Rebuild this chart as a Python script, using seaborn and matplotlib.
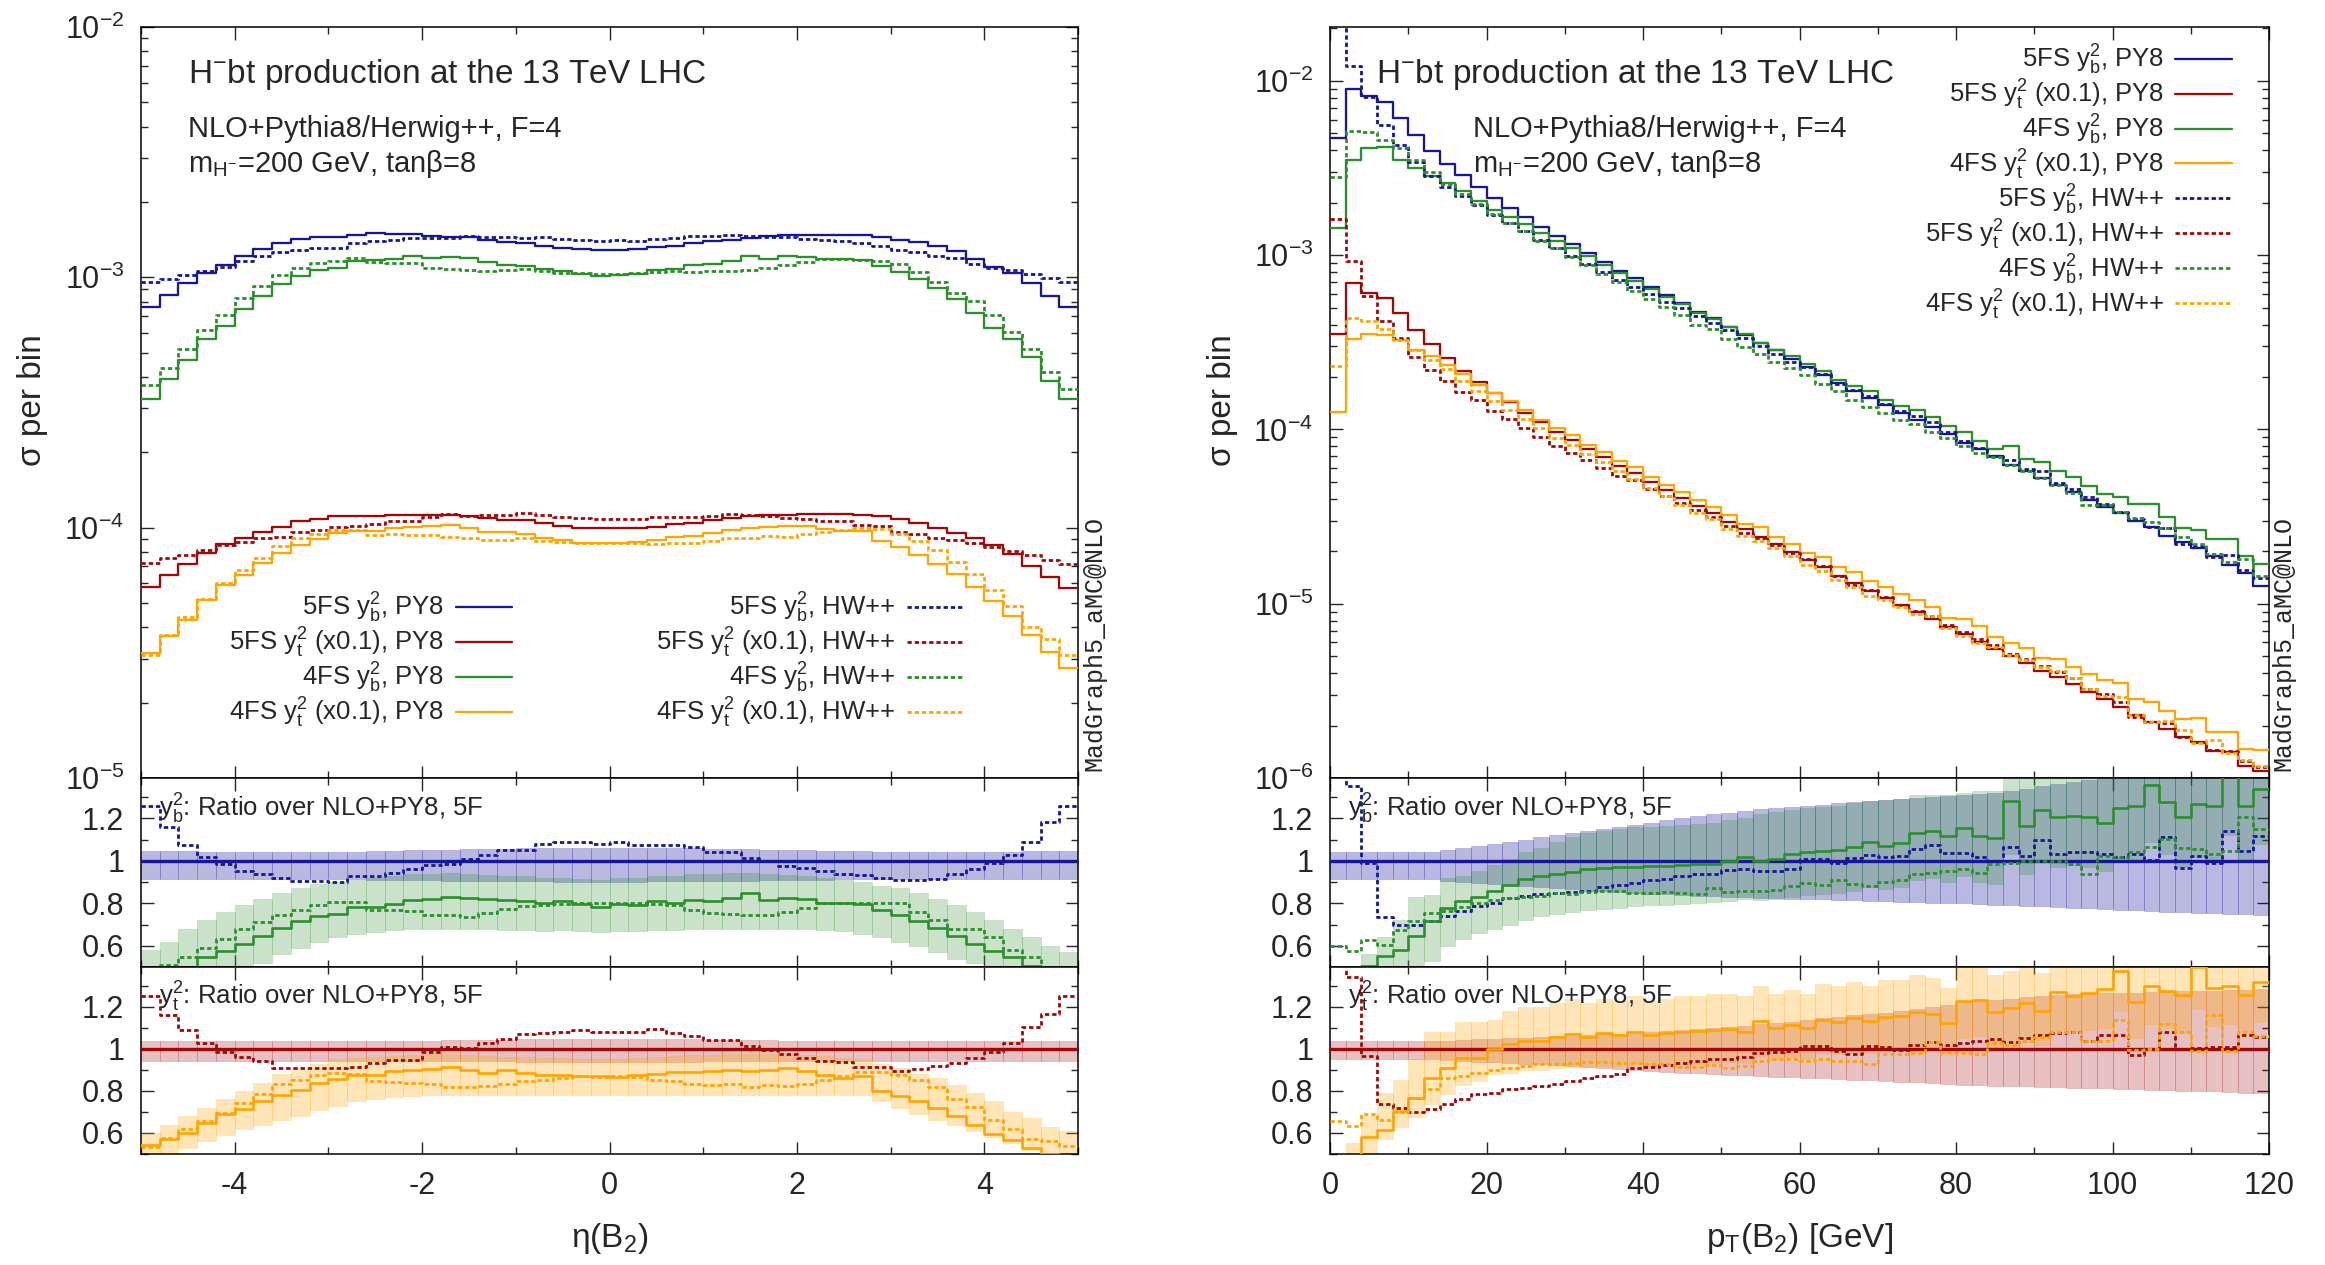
import numpy as np
import pandas as pd
import matplotlib
matplotlib.use("Agg")
import matplotlib.pyplot as plt
import seaborn as sns
from matplotlib.ticker import MultipleLocator, LogLocator, NullFormatter, FormatStrFormatter

# ------------------------------------------------------------------ data
ETA_RANGE = (-5.0, 5.0)
ETA_NBINS = 50
PT_RANGE = (0.0, 120.0)
PT_NBINS = 60

# ---- eta(B2): reference histograms (NLO+PY8, 5FS)
eta_yb_5f_py8 = [7.6e-4, 8.5e-4, 9.5e-4, 1.04e-3, 1.12e-3, 1.22e-3, 1.30e-3, 1.37e-3, 1.42e-3, 1.45e-3,
                 1.45e-3, 1.48e-3, 1.50e-3, 1.49e-3, 1.49e-3, 1.46e-3, 1.45e-3, 1.45e-3, 1.41e-3, 1.38e-3,
                 1.37e-3, 1.34e-3, 1.31e-3, 1.30e-3, 1.29e-3, 1.29e-3, 1.30e-3, 1.32e-3, 1.34e-3, 1.37e-3,
                 1.40e-3, 1.41e-3, 1.44e-3, 1.46e-3, 1.48e-3, 1.48e-3, 1.48e-3, 1.48e-3, 1.47e-3, 1.45e-3,
                 1.41e-3, 1.38e-3, 1.33e-3, 1.27e-3, 1.18e-3, 1.10e-3, 1.04e-3, 9.5e-4, 8.4e-4, 7.6e-4]
eta_yt_5f_py8 = [5.8e-5, 6.5e-5, 7.15e-5, 7.9e-5, 8.6e-5, 9.1e-5, 9.6e-5, 1.01e-4, 1.06e-4, 1.08e-4,
                 1.11e-4, 1.11e-4, 1.11e-4, 1.12e-4, 1.12e-4, 1.12e-4, 1.12e-4, 1.11e-4, 1.09e-4, 1.07e-4,
                 1.07e-4, 1.04e-4, 1.02e-4, 1.0e-4, 1.0e-4, 1.0e-4, 1.0e-4, 1.01e-4, 1.03e-4, 1.04e-4,
                 1.07e-4, 1.09e-4, 1.11e-4, 1.12e-4, 1.12e-4, 1.13e-4, 1.13e-4, 1.13e-4, 1.12e-4, 1.11e-4,
                 1.08e-4, 1.04e-4, 9.96e-5, 9.56e-5, 9.07e-5, 8.53e-5, 7.85e-5, 7.04e-5, 6.38e-5, 5.73e-5]
# ---- eta(B2): ratios over NLO+PY8 5FS
eta_r_yb_5f_hw = [1.26, 1.158, 1.076, 1.016, 0.984, 0.95, 0.94, 0.918, 0.905, 0.905,
                  0.90, 0.927, 0.927, 0.945, 0.96, 0.98, 0.987, 1.008, 1.028, 1.05,
                  1.052, 1.079, 1.087, 1.087, 1.079, 1.09, 1.076, 1.076, 1.076, 1.063,
                  1.043, 1.043, 1.013, 0.997, 0.976, 0.964, 0.95, 0.94, 0.934, 0.918,
                  0.908, 0.912, 0.913, 0.937, 0.96, 0.992, 1.027, 1.087, 1.185, 1.256]
eta_r_yb_4f_py8 = [0.43, 0.46, 0.49, 0.545, 0.573, 0.61, 0.646, 0.684, 0.716, 0.74,
                   0.75, 0.782, 0.782, 0.795, 0.814, 0.818, 0.83, 0.823, 0.818, 0.814,
                   0.81, 0.803, 0.81, 0.795, 0.782, 0.795, 0.79, 0.81, 0.803, 0.814,
                   0.81, 0.823, 0.847, 0.814, 0.823, 0.818, 0.803, 0.803, 0.798, 0.768,
                   0.744, 0.716, 0.684, 0.645, 0.608, 0.573, 0.545, 0.507, 0.46, 0.43]
eta_r_yb_4f_hw = [0.49, 0.51, 0.545, 0.59, 0.63, 0.68, 0.71, 0.745, 0.77, 0.79,
                  0.805, 0.805, 0.77, 0.768, 0.765, 0.745, 0.745, 0.735, 0.755, 0.775,
                  0.785, 0.79, 0.795, 0.80, 0.80, 0.80, 0.80, 0.795, 0.79, 0.77,
                  0.755, 0.75, 0.745, 0.745, 0.76, 0.78, 0.80, 0.80, 0.80, 0.80,
                  0.80, 0.76, 0.72, 0.68, 0.68, 0.64, 0.58, 0.545, 0.50, 0.47]
eta_r_yt_5f_hw = [1.25, 1.16, 1.09, 1.03, 0.987, 0.964, 0.943, 0.909, 0.909, 0.909,
                  0.909, 0.913, 0.932, 0.948, 0.948, 0.984, 1.011, 1.003, 1.03, 1.047,
                  1.07, 1.077, 1.082, 1.09, 1.082, 1.079, 1.082, 1.094, 1.074, 1.063,
                  1.043, 1.043, 1.014, 0.995, 0.975, 0.956, 0.943, 0.937, 0.912, 0.912,
                  0.893, 0.906, 0.917, 0.932, 0.959, 0.984, 1.027, 1.105, 1.164, 1.252]
eta_r_yt_4f_py8 = [0.543, 0.57, 0.60, 0.649, 0.688, 0.712, 0.751, 0.783, 0.806, 0.838,
                   0.858, 0.874, 0.877, 0.893, 0.90, 0.906, 0.912, 0.90, 0.885, 0.90,
                   0.885, 0.877, 0.877, 0.869, 0.869, 0.865, 0.874, 0.88, 0.89, 0.89,
                   0.893, 0.90, 0.896, 0.90, 0.909, 0.896, 0.874, 0.861, 0.869, 0.80,
                   0.775, 0.751, 0.72, 0.683, 0.64, 0.597, 0.565, 0.53, 0.50, 0.48]
eta_r_yt_4f_hw = [0.535, 0.575, 0.617, 0.657, 0.696, 0.743, 0.786, 0.835, 0.854, 0.877,
                  0.885, 0.88, 0.846, 0.843, 0.838, 0.833, 0.817, 0.817, 0.822, 0.833,
                  0.846, 0.85, 0.861, 0.869, 0.865, 0.869, 0.865, 0.854, 0.846, 0.833,
                  0.83, 0.835, 0.817, 0.827, 0.822, 0.833, 0.854, 0.869, 0.89, 0.89,
                  0.877, 0.854, 0.817, 0.764, 0.723, 0.66, 0.617, 0.57, 0.562, 0.54]
# ---- eta(B2): scale-uncertainty bands (ratio units)
eta_band_yb_5f_hi = [1.045, 1.045, 1.045, 1.04, 1.04, 1.04, 1.04, 1.04, 1.04, 1.04,
                     1.04, 1.04, 1.045, 1.045, 1.05, 1.05, 1.05, 1.055, 1.055, 1.055,
                     1.06, 1.06, 1.06, 1.06, 1.06, 1.06, 1.06, 1.06, 1.06, 1.06,
                     1.055, 1.055, 1.055, 1.05, 1.05, 1.05, 1.045, 1.045, 1.045, 1.04,
                     1.04, 1.04, 1.04, 1.04, 1.04, 1.04, 1.04, 1.045, 1.045, 1.045]
eta_band_yb_5f_lo = [0.915, 0.915, 0.915, 0.915, 0.915, 0.915, 0.915, 0.915, 0.915, 0.915,
                     0.915, 0.915, 0.91, 0.91, 0.91, 0.91, 0.905, 0.905, 0.905, 0.905,
                     0.905, 0.905, 0.90, 0.90, 0.90, 0.90, 0.90, 0.905, 0.905, 0.905,
                     0.905, 0.905, 0.905, 0.91, 0.91, 0.91, 0.91, 0.915, 0.915, 0.915,
                     0.915, 0.915, 0.915, 0.915, 0.915, 0.915, 0.915, 0.915, 0.915, 0.915]
eta_band_yb_4f_hi = [0.58, 0.62, 0.68, 0.72, 0.76, 0.79, 0.82, 0.85, 0.87, 0.89,
                     0.90, 0.91, 0.92, 0.93, 0.94, 0.94, 0.945, 0.94, 0.935, 0.93,
                     0.93, 0.92, 0.92, 0.915, 0.91, 0.92, 0.92, 0.93, 0.93, 0.94,
                     0.94, 0.945, 0.945, 0.94, 0.935, 0.93, 0.92, 0.91, 0.90, 0.88,
                     0.87, 0.85, 0.82, 0.79, 0.76, 0.72, 0.68, 0.64, 0.60, 0.57]
eta_band_yb_4f_lo = [0.40, 0.42, 0.44, 0.46, 0.47, 0.48, 0.52, 0.56, 0.59, 0.62,
                     0.64, 0.655, 0.665, 0.675, 0.68, 0.68, 0.68, 0.68, 0.68, 0.675,
                     0.675, 0.67, 0.675, 0.67, 0.665, 0.67, 0.67, 0.675, 0.675, 0.68,
                     0.68, 0.68, 0.68, 0.68, 0.68, 0.68, 0.675, 0.67, 0.655, 0.64,
                     0.62, 0.60, 0.57, 0.54, 0.52, 0.49, 0.46, 0.44, 0.42, 0.40]
eta_band_yt_5f_hi = [1.038, 1.038, 1.038, 1.038, 1.038, 1.038, 1.038, 1.038, 1.038, 1.038,
                     1.038, 1.038, 1.04, 1.04, 1.04, 1.04, 1.042, 1.042, 1.042, 1.042,
                     1.045, 1.045, 1.045, 1.045, 1.045, 1.045, 1.045, 1.045, 1.045, 1.045,
                     1.042, 1.042, 1.042, 1.042, 1.04, 1.04, 1.04, 1.04, 1.038, 1.038,
                     1.038, 1.038, 1.038, 1.038, 1.038, 1.038, 1.038, 1.038, 1.038, 1.038]
eta_band_yt_5f_lo = [0.945, 0.945, 0.945, 0.945, 0.945, 0.945, 0.945, 0.945, 0.945, 0.945,
                     0.945, 0.945, 0.945, 0.945, 0.945, 0.945, 0.945, 0.945, 0.945, 0.945,
                     0.94, 0.94, 0.94, 0.94, 0.94, 0.94, 0.94, 0.94, 0.94, 0.94,
                     0.945, 0.945, 0.945, 0.945, 0.945, 0.945, 0.945, 0.945, 0.945, 0.945,
                     0.945, 0.945, 0.945, 0.945, 0.945, 0.945, 0.945, 0.945, 0.945, 0.945]
eta_band_yt_4f_hi = [0.60, 0.64, 0.68, 0.72, 0.76, 0.80, 0.84, 0.88, 0.90, 0.93,
                     0.95, 0.955, 0.96, 0.965, 0.97, 0.975, 0.975, 0.97, 0.965, 0.96,
                     0.96, 0.955, 0.955, 0.95, 0.95, 0.95, 0.955, 0.96, 0.965, 0.97,
                     0.97, 0.975, 0.975, 0.975, 0.975, 0.97, 0.965, 0.955, 0.95, 0.93,
                     0.91, 0.88, 0.86, 0.83, 0.79, 0.75, 0.70, 0.67, 0.63, 0.61]
eta_band_yt_4f_lo = [0.47, 0.50, 0.53, 0.56, 0.59, 0.62, 0.64, 0.66, 0.68, 0.71,
                     0.73, 0.75, 0.76, 0.77, 0.775, 0.78, 0.78, 0.78, 0.78, 0.78,
                     0.78, 0.78, 0.78, 0.78, 0.78, 0.78, 0.78, 0.78, 0.78, 0.78,
                     0.78, 0.78, 0.78, 0.78, 0.78, 0.78, 0.78, 0.78, 0.78, 0.75,
                     0.72, 0.69, 0.66, 0.64, 0.61, 0.58, 0.55, 0.52, 0.50, 0.48]

# ---- pT(B2): reference histograms (NLO+PY8, 5FS)
pt_yb_5f_py8 = [4.72e-3, 9.05e-3, 8.15e-3, 7.6e-3, 6.1e-3, 4.9e-3, 3.97e-3, 3.34e-3, 2.88e-3, 2.47e-3,
                2.13e-3, 1.87e-3, 1.65e-3, 1.45e-3, 1.29e-3, 1.156e-3, 1.03e-3, 9.1e-4, 8.16e-4, 7.36e-4,
                6.56e-4, 5.88e-4, 5.33e-4, 4.75e-4, 4.34e-4, 3.87e-4, 3.47e-4, 3.15e-4, 2.84e-4, 2.55e-4,
                2.28e-4, 2.06e-4, 1.84e-4, 1.67e-4, 1.52e-4, 1.38e-4, 1.25e-4, 1.14e-4, 1.03e-4, 9.37e-5,
                8.35e-5, 7.73e-5, 7.02e-5, 6.29e-5, 5.78e-5, 5.25e-5, 4.77e-5, 4.38e-5, 3.93e-5, 3.61e-5,
                3.30e-5, 2.98e-5, 2.76e-5, 2.46e-5, 2.27e-5, 2.10e-5, 1.87e-5, 1.67e-5, 1.50e-5, 1.26e-5]
pt_yt_5f_py8 = [3.51e-4, 6.90e-4, 6.07e-4, 5.69e-4, 4.63e-4, 3.74e-4, 3.09e-4, 2.58e-4, 2.17e-4, 1.88e-4,
                1.62e-4, 1.43e-4, 1.25e-4, 1.10e-4, 9.69e-5, 8.68e-5, 7.73e-5, 6.93e-5, 6.17e-5, 5.60e-5,
                4.99e-5, 4.47e-5, 4.06e-5, 3.64e-5, 3.30e-5, 2.94e-5, 2.67e-5, 2.43e-5, 2.20e-5, 1.97e-5,
                1.78e-5, 1.63e-5, 1.45e-5, 1.32e-5, 1.19e-5, 1.08e-5, 9.84e-6, 8.93e-6, 8.22e-6, 7.37e-6,
                6.69e-6, 6.07e-6, 5.51e-6, 5.0e-6, 4.60e-6, 4.12e-6, 3.79e-6, 3.46e-6, 3.13e-6, 2.84e-6,
                2.55e-6, 2.31e-6, 2.10e-6, 1.91e-6, 1.73e-6, 1.60e-6, 1.43e-6, 1.41e-6, 1.17e-6, 1.10e-6]
# ---- pT(B2): ratios over NLO+PY8 5FS
pt_r_yb_5f_hw = [4.6, 1.35, 0.99, 0.735, 0.70, 0.70, 0.716, 0.74, 0.763, 0.787,
                 0.80, 0.823, 0.834, 0.842, 0.85, 0.853, 0.86, 0.877, 0.886, 0.897,
                 0.908, 0.913, 0.929, 0.937, 0.94, 0.956, 0.96, 0.953, 0.953, 0.96,
                 1.008, 1.008, 0.992, 1.013, 1.028, 1.016, 1.024, 1.055, 1.076, 1.035,
                 1.035, 1.016, 1.0, 1.063, 1.024, 1.098, 1.032, 1.04, 1.04, 1.032,
                 1.016, 1.032, 1.003, 1.11, 0.968, 1.024, 0.992, 1.139, 1.047, 1.118]
pt_r_yb_4f_py8 = [0.305, 0.39, 0.507, 0.55, 0.58, 0.645, 0.716, 0.779, 0.81, 0.83,
                  0.858, 0.886, 0.913, 0.929, 0.94, 0.948, 0.96, 0.965, 0.972, 0.972,
                  0.976, 0.976, 0.981, 0.984, 0.987, 0.997, 1.016, 0.997, 1.008, 1.032,
                  1.04, 1.047, 1.05, 1.066, 1.087, 1.071, 1.084, 1.13, 1.139, 1.118,
                  1.155, 1.118, 1.107, 1.281, 1.166, 1.24, 1.205, 1.213, 1.205, 1.177,
                  1.248, 1.256, 1.355, 1.276, 1.205, 1.268, 1.256, 1.40, 1.256, 1.34]
pt_r_yb_4f_hw = [0.597, 0.573, 0.626, 0.605, 0.676, 0.716, 0.755, 0.763, 0.782, 0.80,
                 0.814, 0.823, 0.83, 0.834, 0.85, 0.845, 0.855, 0.858, 0.858, 0.85,
                 0.85, 0.855, 0.85, 0.842, 0.874, 0.855, 0.858, 0.858, 0.861, 0.88,
                 0.897, 0.886, 0.908, 0.889, 0.88, 0.902, 0.908, 0.937, 0.945, 0.953,
                 0.96, 0.945, 0.984, 0.992, 0.997, 0.997, 1.0, 0.984, 0.94, 1.024,
                 1.019, 1.04, 1.066, 1.103, 1.06, 1.055, 1.032, 1.044, 1.205, 1.15]
pt_r_yt_5f_hw = [4.6, 1.343, 0.965, 0.737, 0.72, 0.698, 0.713, 0.737, 0.76, 0.784,
                 0.792, 0.808, 0.816, 0.824, 0.832, 0.847, 0.86, 0.871, 0.879, 0.91,
                 0.913, 0.923, 0.934, 0.942, 0.954, 0.95, 0.96, 0.981, 0.986, 0.992,
                 1.013, 1.013, 0.989, 0.976, 1.013, 1.008, 0.997, 1.02, 1.033, 1.02,
                 1.028, 1.036, 1.049, 1.033, 1.052, 1.065, 1.076, 1.08, 1.036, 1.068,
                 1.068, 0.97, 1.0, 1.083, 1.0, 1.005, 1.008, 1.008, 1.065, 1.055]
pt_r_yt_4f_py8 = [0.357, 0.48, 0.58, 0.614, 0.706, 0.768, 0.86, 0.907, 0.957, 0.957,
                  1.0, 1.024, 1.039, 1.036, 1.055, 1.071, 1.055, 1.076, 1.065, 1.083,
                  1.065, 1.076, 1.083, 1.087, 1.091, 1.094, 1.08, 1.131, 1.099, 1.115,
                  1.099, 1.139, 1.128, 1.146, 1.134, 1.154, 1.159, 1.178, 1.165, 1.123,
                  1.228, 1.233, 1.175, 1.194, 1.217, 1.181, 1.272, 1.254, 1.265, 1.285,
                  1.37, 1.225, 1.30, 1.276, 1.257, 1.39, 1.288, 1.30, 1.257, 1.317]
pt_r_yt_4f_hw = [0.658, 0.635, 0.69, 0.661, 0.702, 0.768, 0.808, 0.863, 0.871, 0.887,
                 0.902, 0.91, 0.918, 0.926, 0.926, 0.934, 0.939, 0.939, 0.934, 0.934,
                 0.929, 0.926, 0.913, 0.913, 0.923, 0.91, 0.918, 0.942, 0.95, 0.95,
                 0.942, 0.95, 0.942, 0.942, 0.926, 0.976, 0.976, 0.981, 1.033, 0.986,
                 0.981, 0.976, 1.028, 1.02, 1.036, 1.055, 1.08, 1.083, 1.039, 1.036,
                 1.139, 0.997, 1.0, 1.118, 1.083, 0.992, 1.162, 0.989, 1.083, 1.06]
# ---- pT(B2): bands (ratio units)
pt_band_yb_5f_hi = [1.04, 1.04, 1.04, 1.04, 1.04, 1.04, 1.04, 1.05, 1.06, 1.07,
                    1.08, 1.09, 1.10, 1.11, 1.12, 1.13, 1.14, 1.15, 1.16, 1.17,
                    1.18, 1.19, 1.20, 1.21, 1.22, 1.225, 1.235, 1.245, 1.25, 1.255,
                    1.26, 1.265, 1.27, 1.275, 1.28, 1.285, 1.29, 1.295, 1.30, 1.305,
                    1.31, 1.315, 1.32, 1.33, 1.34, 1.35, 1.36, 1.37, 1.38, 1.39,
                    1.40, 1.41, 1.42, 1.43, 1.44, 1.45, 1.46, 1.47, 1.48, 1.49]
pt_band_yb_5f_lo = [0.915, 0.915, 0.915, 0.915, 0.915, 0.915, 0.915, 0.905, 0.90, 0.895,
                    0.89, 0.885, 0.88, 0.875, 0.87, 0.865, 0.86, 0.856, 0.852, 0.848,
                    0.845, 0.842, 0.839, 0.836, 0.833, 0.83, 0.828, 0.826, 0.824, 0.822,
                    0.82, 0.818, 0.816, 0.814, 0.812, 0.81, 0.808, 0.806, 0.803, 0.80,
                    0.80, 0.797, 0.794, 0.791, 0.788, 0.785, 0.782, 0.779, 0.776, 0.773,
                    0.77, 0.767, 0.764, 0.761, 0.758, 0.755, 0.752, 0.75, 0.748, 0.745]
pt_band_yb_4f_hi = [0.38, 0.48, 0.56, 0.64, 0.72, 0.83, 0.84, 0.92, 0.93, 0.95,
                    0.98, 1.01, 1.04, 1.06, 1.09, 1.11, 1.13, 1.14, 1.15, 1.16,
                    1.16, 1.165, 1.17, 1.175, 1.18, 1.19, 1.20, 1.22, 1.23, 1.24,
                    1.25, 1.255, 1.26, 1.27, 1.28, 1.285, 1.29, 1.31, 1.31, 1.31,
                    1.32, 1.33, 1.33, 1.50, 1.40, 1.45, 1.42, 1.43, 1.42, 1.40,
                    1.48, 1.49, 1.60, 1.52, 1.43, 1.50, 1.49, 1.65, 1.49, 1.59]
pt_band_yb_4f_lo = [0.25, 0.32, 0.40, 0.45, 0.48, 0.51, 0.53, 0.60, 0.63, 0.66,
                    0.68, 0.70, 0.72, 0.74, 0.75, 0.76, 0.77, 0.775, 0.78, 0.785,
                    0.79, 0.79, 0.795, 0.80, 0.805, 0.81, 0.82, 0.815, 0.82, 0.83,
                    0.84, 0.845, 0.85, 0.86, 0.875, 0.865, 0.875, 0.91, 0.92, 0.90,
                    0.93, 0.90, 0.89, 1.03, 0.94, 1.0, 0.97, 0.98, 0.97, 0.95,
                    1.0, 1.01, 1.09, 1.03, 0.97, 1.02, 1.01, 1.12, 1.01, 1.08]
pt_band_yt_5f_hi = [1.036, 1.036, 1.036, 1.036, 1.036, 1.036, 1.036, 1.04, 1.042, 1.045,
                    1.048, 1.05, 1.053, 1.056, 1.06, 1.063, 1.066, 1.07, 1.073, 1.076,
                    1.08, 1.085, 1.09, 1.095, 1.10, 1.105, 1.11, 1.12, 1.125, 1.13,
                    1.14, 1.145, 1.15, 1.16, 1.165, 1.17, 1.18, 1.19, 1.20, 1.21,
                    1.225, 1.23, 1.235, 1.24, 1.245, 1.25, 1.255, 1.26, 1.262, 1.264,
                    1.265, 1.267, 1.27, 1.272, 1.274, 1.276, 1.278, 1.28, 1.282, 1.285]
pt_band_yt_5f_lo = [0.95, 0.95, 0.95, 0.95, 0.95, 0.95, 0.95, 0.946, 0.943, 0.94,
                    0.937, 0.934, 0.93, 0.926, 0.922, 0.918, 0.914, 0.91, 0.905, 0.90,
                    0.894, 0.89, 0.887, 0.884, 0.88, 0.877, 0.874, 0.871, 0.868, 0.865,
                    0.863, 0.86, 0.857, 0.854, 0.851, 0.848, 0.845, 0.842, 0.839, 0.835,
                    0.83, 0.828, 0.826, 0.824, 0.822, 0.82, 0.818, 0.816, 0.814, 0.812,
                    0.81, 0.808, 0.806, 0.804, 0.802, 0.80, 0.798, 0.795, 0.792, 0.79]
pt_band_yt_4f_hi = [0.40, 0.55, 0.68, 0.79, 0.85, 0.95, 1.08, 1.08, 1.13, 1.13,
                    1.14, 1.18, 1.20, 1.20, 1.22, 1.24, 1.22, 1.24, 1.23, 1.25,
                    1.23, 1.24, 1.25, 1.25, 1.26, 1.26, 1.25, 1.30, 1.26, 1.28,
                    1.26, 1.31, 1.30, 1.32, 1.30, 1.33, 1.33, 1.35, 1.34, 1.29,
                    1.41, 1.42, 1.35, 1.37, 1.40, 1.36, 1.46, 1.44, 1.45, 1.47,
                    1.57, 1.41, 1.49, 1.47, 1.44, 1.60, 1.48, 1.49, 1.44, 1.51]
pt_band_yt_4f_lo = [0.30, 0.38, 0.45, 0.57, 0.627, 0.674, 0.737, 0.784, 0.83, 0.847,
                    0.879, 0.887, 0.902, 0.90, 0.91, 0.915, 0.915, 0.92, 0.92, 0.925,
                    0.92, 0.925, 0.93, 0.93, 0.935, 0.94, 0.935, 0.96, 0.95, 0.96,
                    0.95, 0.98, 0.975, 0.985, 0.98, 0.99, 1.0, 1.01, 1.0, 0.97,
                    1.05, 1.06, 1.01, 1.03, 1.05, 1.02, 1.09, 1.08, 1.09, 1.10,
                    1.18, 1.05, 1.12, 1.10, 1.08, 1.19, 1.11, 1.12, 1.08, 1.13]

LABELS_PY8 = [r"5FS $y_b^2$, PY8", r"5FS $y_t^2$ (x0.1), PY8", r"4FS $y_b^2$, PY8", r"4FS $y_t^2$ (x0.1), PY8"]
LABELS_HW = [r"5FS $y_b^2$, HW++", r"5FS $y_t^2$ (x0.1), HW++", r"4FS $y_b^2$, HW++", r"4FS $y_t^2$ (x0.1), HW++"]
TITLE = r"H$^{-}$bt production at the 13 TeV LHC"
SUB1 = "NLO+Pythia8/Herwig++, F=4"
SUB2 = r"m$_{H^{-}}$=200 GeV, tanβ=8"
RATIO_B = r"$y_b^2$: Ratio over NLO+PY8, 5F"
RATIO_T = r"$y_t^2$: Ratio over NLO+PY8, 5F"
WATERMARK = "MadGraph5_aMC@NLO"

# ------------------------------------------------------------------ style
sns.set_theme(style="ticks")
plt.rcParams["font.family"] = ["Liberation Sans", "DejaVu Sans"]
plt.rcParams["mathtext.fontset"] = "custom"
plt.rcParams["mathtext.rm"] = "Liberation Sans"
plt.rcParams["mathtext.it"] = "Liberation Sans:italic"
plt.rcParams["mathtext.bf"] = "Liberation Sans:bold"
plt.rcParams["mathtext.default"] = "regular"
plt.rcParams["axes.unicode_minus"] = False
plt.rcParams["axes.edgecolor"] = "black"
plt.rcParams["axes.linewidth"] = 1.1

C_BLUE = "#16169a"
C_RED = "#a00808"
C_GREEN = "#2b8f2b"
C_ORANGE = "#ffa500"
LW_SOLID = 1.65
LW_DOT = 2.0
DOT = (0, (1.55, 1.05))

fig = plt.figure(figsize=(23.25, 12.65), dpi=100)
W, H = 2325.0, 1265.0


def add_axes(x0, x1, y0, y1):
    return fig.add_axes([x0 / W, 1 - y1 / H, (x1 - x0) / W, (y1 - y0) / H])


def draw_step(ax, edges, vals, color, dotted=False, lw=None, z=3):
    vals = np.asarray(vals, dtype=float)
    if lw is None:
        lw = LW_DOT if dotted else LW_SOLID
    df = pd.DataFrame({"x": edges, "y": np.append(vals, vals[-1])})
    sns.lineplot(data=df, x="x", y="y", ax=ax, color=color, linewidth=lw,
                 drawstyle="steps-post", estimator=None, sort=False, zorder=z,
                 linestyle=DOT if dotted else "-")
    ax.set_xlabel("")
    ax.set_ylabel("")
    return ax.get_lines()[-1]


def draw_band(ax, edges, lo, hi, color, alpha):
    lo = np.asarray(lo, dtype=float)
    hi = np.asarray(hi, dtype=float)
    ax.bar(edges[:-1], hi - lo, bottom=lo, width=np.diff(edges), align="edge",
           color=color, alpha=alpha, edgecolor=color, linewidth=0.45, zorder=1)


def style_axes(ax, xmaj, xmin):
    ax.tick_params(which="both", direction="in", top=True, right=True, width=1.0,
                   labelsize=22, pad=12)
    ax.tick_params(which="major", length=9)
    ax.tick_params(which="minor", length=5)
    ax.xaxis.set_major_locator(MultipleLocator(xmaj))
    ax.xaxis.set_minor_locator(MultipleLocator(xmin))


def panel(x0, x1, edges, xlim, xmaj, xmin, ylim_main,
          yb_ref, yt_ref, r_yb_hw, r_yb_4f, r_yb_4f_hw, r_yt_hw, r_yt_4f, r_yt_4f_hw,
          b5_lo, b5_hi, b4_lo, b4_hi, t5_lo, t5_hi, t4_lo, t4_hi):
    axm = add_axes(x0, x1, 27, 778)
    ax1 = add_axes(x0, x1, 778, 967)
    ax2 = add_axes(x0, x1, 967, 1154)
    yb_ref = np.asarray(yb_ref)
    yt_ref = np.asarray(yt_ref)
    axm.set_yscale("log")
    # main histograms (4FS and HW++ = reference x ratio)
    h = {}
    h["b5p"] = draw_step(axm, edges, yb_ref, C_BLUE)
    h["t5p"] = draw_step(axm, edges, yt_ref, C_RED)
    h["b4p"] = draw_step(axm, edges, yb_ref * np.asarray(r_yb_4f), C_GREEN)
    h["t4p"] = draw_step(axm, edges, yt_ref * np.asarray(r_yt_4f), C_ORANGE)
    h["b5h"] = draw_step(axm, edges, yb_ref * np.asarray(r_yb_hw), C_BLUE, dotted=True)
    h["t5h"] = draw_step(axm, edges, yt_ref * np.asarray(r_yt_hw), C_RED, dotted=True)
    h["b4h"] = draw_step(axm, edges, yb_ref * np.asarray(r_yb_4f_hw), C_GREEN, dotted=True)
    h["t4h"] = draw_step(axm, edges, yt_ref * np.asarray(r_yt_4f_hw), C_ORANGE, dotted=True)
    axm.set_xlim(*xlim)
    axm.set_ylim(*ylim_main)
    style_axes(axm, xmaj, xmin)
    axm.yaxis.set_major_locator(LogLocator(base=10))
    axm.yaxis.set_minor_locator(LogLocator(base=10, subs=np.arange(2, 10)))
    axm.yaxis.set_minor_formatter(NullFormatter())
    axm.tick_params(axis="x", labelbottom=False)

    # ratio panel yb
    draw_band(ax1, edges, b5_lo, b5_hi, C_BLUE, 0.30)
    draw_band(ax1, edges, b4_lo, b4_hi, C_GREEN, 0.25)
    draw_step(ax1, edges, yb_ref / yb_ref, C_BLUE, lw=2.4, z=4)
    draw_step(ax1, edges, r_yb_hw, C_BLUE, dotted=True, z=5)
    draw_step(ax1, edges, r_yb_4f, C_GREEN, lw=1.9, z=5)
    draw_step(ax1, edges, r_yb_4f_hw, C_GREEN, dotted=True, z=5)
    # ratio panel yt
    draw_band(ax2, edges, t5_lo, t5_hi, C_RED, 0.25)
    draw_band(ax2, edges, t4_lo, t4_hi, C_ORANGE, 0.28)
    draw_step(ax2, edges, yt_ref / yt_ref, C_RED, lw=2.4, z=4)
    draw_step(ax2, edges, r_yt_hw, C_RED, dotted=True, z=5)
    draw_step(ax2, edges, r_yt_4f, C_ORANGE, lw=1.9, z=5)
    draw_step(ax2, edges, r_yt_4f_hw, C_ORANGE, dotted=True, z=5)
    for ax in (ax1, ax2):
        ax.set_xlim(*xlim)
        ax.set_ylim(0.5, 1.39)
        style_axes(ax, xmaj, xmin)
        ax.yaxis.set_major_locator(MultipleLocator(0.2))
        ax.yaxis.set_minor_locator(MultipleLocator(0.1))
        ax.yaxis.set_major_formatter(FormatStrFormatter("%g"))
    ax1.tick_params(axis="x", labelbottom=False)
    ax1.text(0.019, 0.835, RATIO_B, transform=ax1.transAxes, fontsize=18.5, va="center", ha="left", zorder=10)
    ax2.text(0.019, 0.84, RATIO_T, transform=ax2.transAxes, fontsize=18.5, va="center", ha="left", zorder=10)
    return axm, ax1, ax2, h


eta_edges = np.linspace(ETA_RANGE[0], ETA_RANGE[1], ETA_NBINS + 1)
pt_edges = np.linspace(PT_RANGE[0], PT_RANGE[1], PT_NBINS + 1)

axmL, ax1L, ax2L, hL = panel(141, 1078, eta_edges, ETA_RANGE, 2, 1, (1e-5, 1e-2),
                             eta_yb_5f_py8, eta_yt_5f_py8, eta_r_yb_5f_hw, eta_r_yb_4f_py8, eta_r_yb_4f_hw,
                             eta_r_yt_5f_hw, eta_r_yt_4f_py8, eta_r_yt_4f_hw,
                             eta_band_yb_5f_lo, eta_band_yb_5f_hi, eta_band_yb_4f_lo, eta_band_yb_4f_hi,
                             eta_band_yt_5f_lo, eta_band_yt_5f_hi, eta_band_yt_4f_lo, eta_band_yt_4f_hi)
axmR, ax1R, ax2R, hR = panel(1330, 2269, pt_edges, PT_RANGE, 20, 10, (1e-6, 2.04e-2),
                             pt_yb_5f_py8, pt_yt_5f_py8, pt_r_yb_5f_hw, pt_r_yb_4f_py8, pt_r_yb_4f_hw,
                             pt_r_yt_5f_hw, pt_r_yt_4f_py8, pt_r_yt_4f_hw,
                             pt_band_yb_5f_lo, pt_band_yb_5f_hi, pt_band_yb_4f_lo, pt_band_yb_4f_hi,
                             pt_band_yt_5f_lo, pt_band_yt_5f_hi, pt_band_yt_4f_lo, pt_band_yt_4f_hi)

# ---- texts in main panels
for ax, xt, xs in ((axmL, 0.05, 0.05), (axmR, 0.049, 0.152)):
    ax.text(xt, 0.937, TITLE, transform=ax.transAxes, fontsize=24, va="center", ha="left")
    ax.text(xs, 0.864, SUB1, transform=ax.transAxes, fontsize=21, va="center", ha="left")
    ax.text(xs, 0.817, SUB2, transform=ax.transAxes, fontsize=21, va="center", ha="left")

# ---- legends
leg_kw = dict(frameon=False, markerfirst=False, handlelength=2.2, handletextpad=0.45,
              labelspacing=0.03, borderpad=0.0, borderaxespad=0.0, fontsize=18.5, loc="upper right")
py8_keys = ["b5p", "t5p", "b4p", "t4p"]
hw_keys = ["b5h", "t5h", "b4h", "t4h"]
legA = axmL.legend([hL[k] for k in py8_keys], LABELS_PY8, bbox_to_anchor=(0.396, 0.249), **leg_kw)
axmL.add_artist(legA)
axmL.legend([hL[k] for k in hw_keys], LABELS_HW, bbox_to_anchor=(0.878, 0.249), **leg_kw)
axmR.legend([hR[k] for k in py8_keys + hw_keys], LABELS_PY8 + LABELS_HW,
            bbox_to_anchor=(0.9606, 0.979), **leg_kw)

# ---- axis labels
fig.text(32.6 / W, 1 - 400 / H, "σ per bin", rotation=90, fontsize=24, ha="center", va="center")
fig.text(1223 / W, 1 - 400 / H, "σ per bin", rotation=90, fontsize=24, ha="center", va="center")
fig.text(609.5 / W, 1 - 1238 / H, r"η(B$_2$)", fontsize=24, ha="center", va="center")
fig.text(1799.5 / W, 1 - 1238 / H, r"p$_T$(B$_2$) [GeV]", fontsize=24, ha="center", va="center")

# ---- watermark
for xw in (1094.6, 2283.0):
    fig.text(xw / W, 1 - 771 / H, WATERMARK, rotation=90, fontsize=18,
             family=["Liberation Mono", "DejaVu Sans Mono"], ha="center", va="bottom")

fig.savefig("out.png", dpi=100)
